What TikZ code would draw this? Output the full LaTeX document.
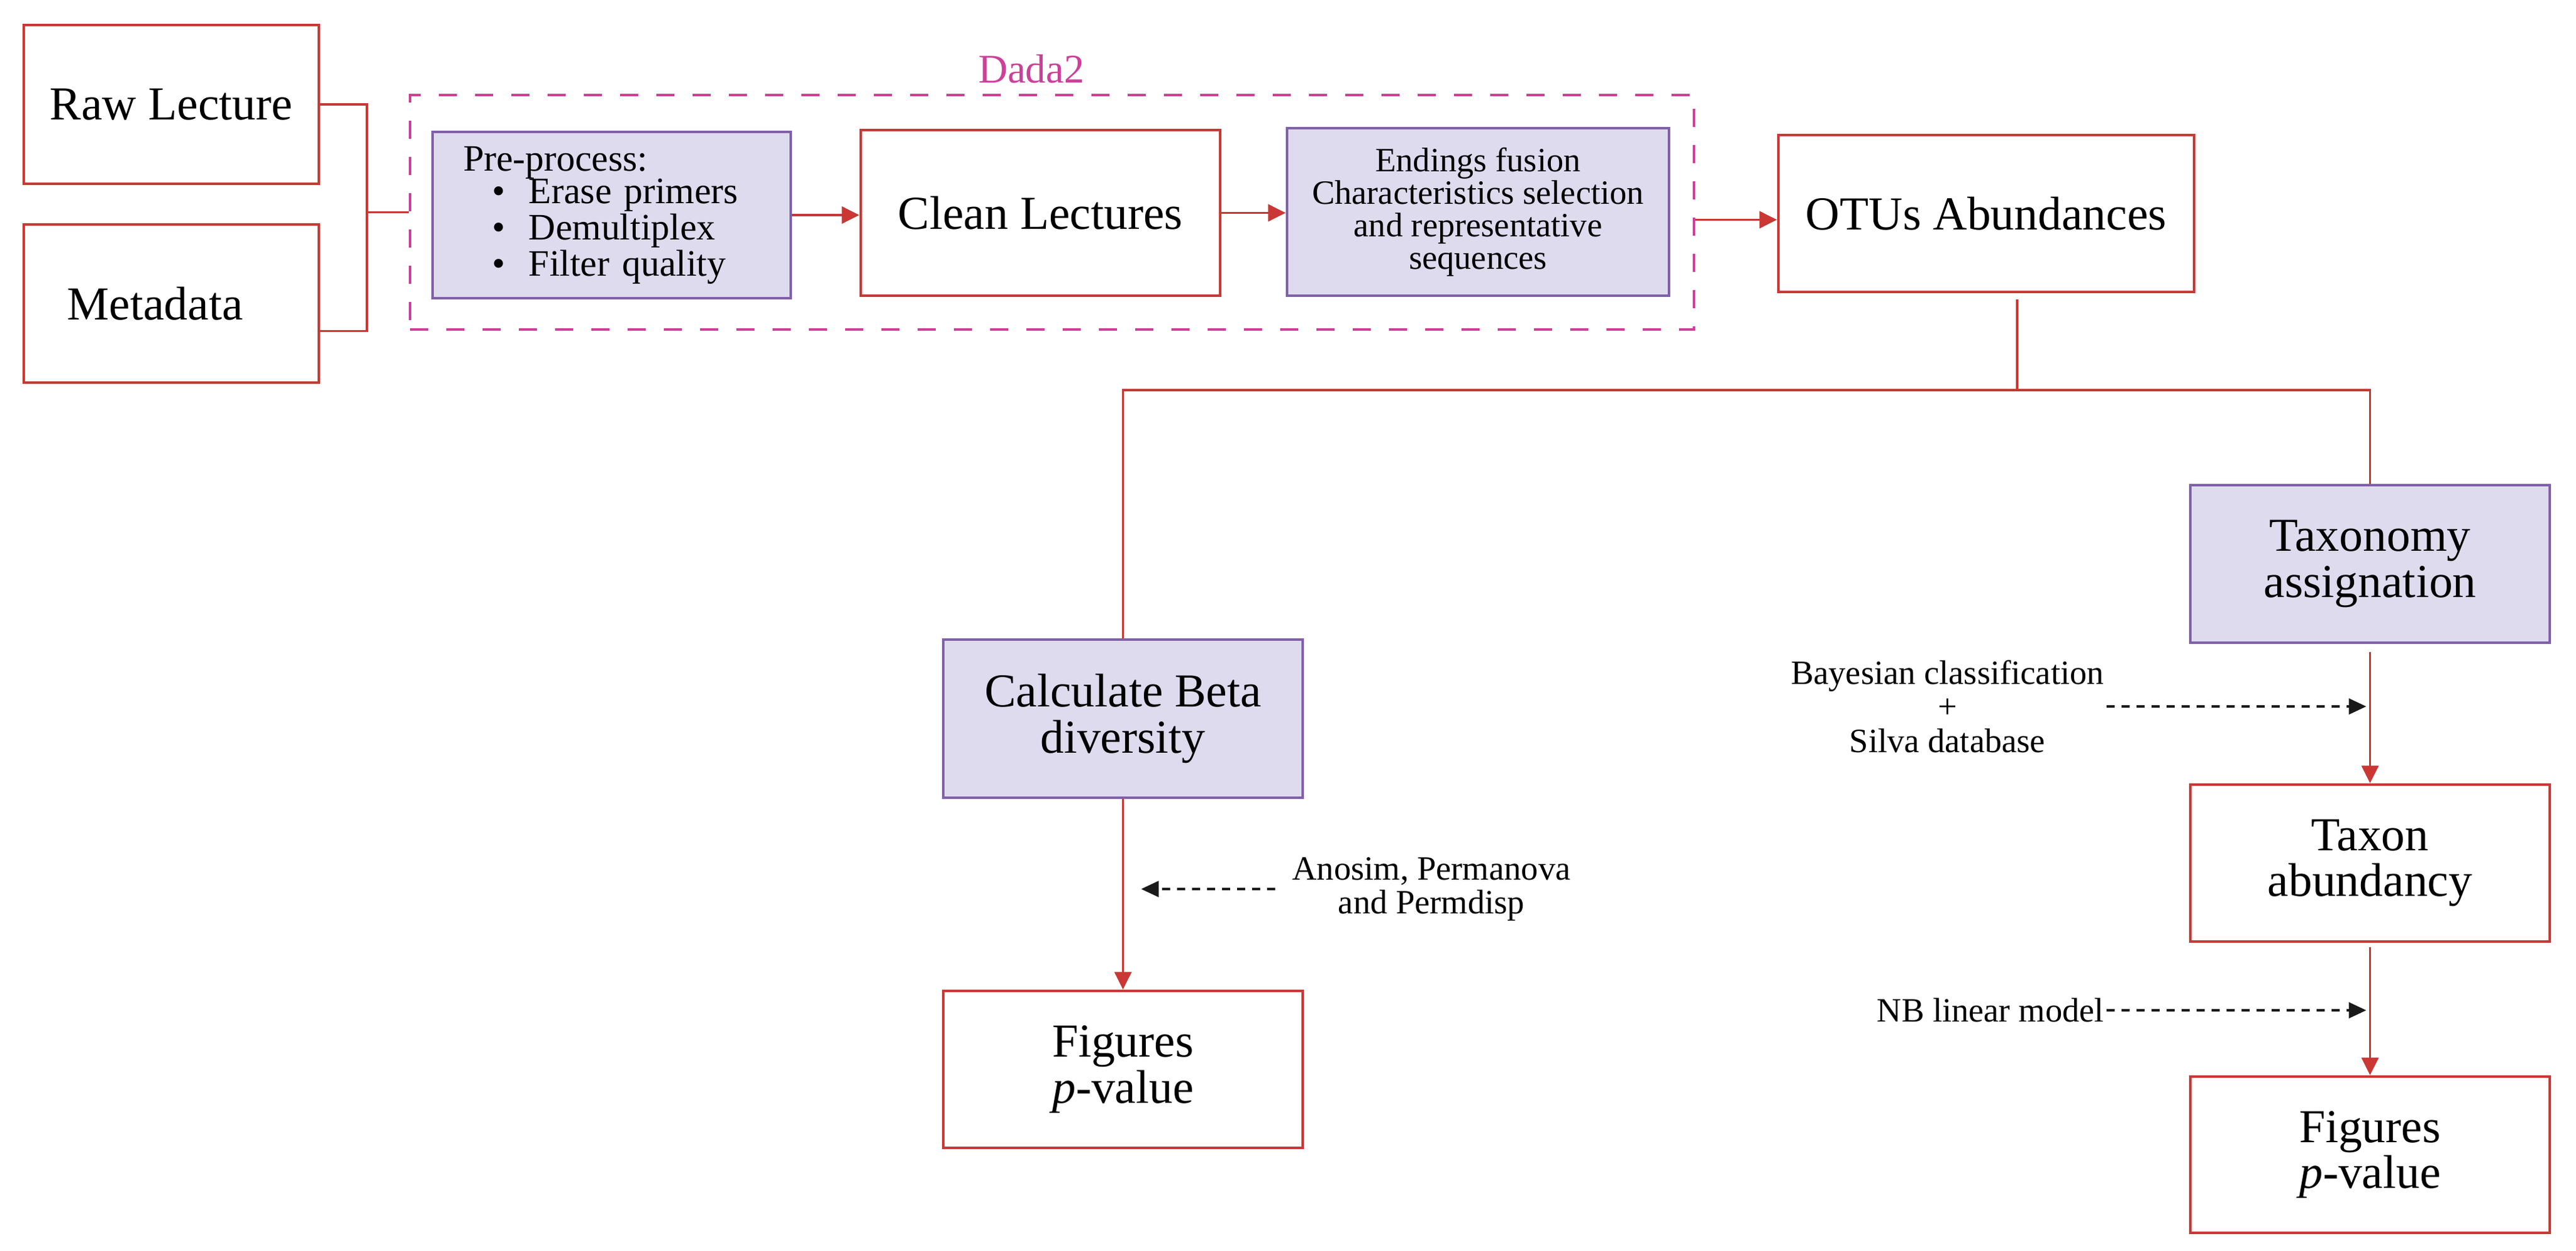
\documentclass[tikz,border=0pt]{standalone}
\usepackage{fontspec}
\setmainfont{Liberation Serif}
\usetikzlibrary{arrows.meta}

\definecolor{boxred}{RGB}{201,56,52}
\definecolor{boxpurple}{RGB}{128,96,168}
\definecolor{boxfill}{RGB}{222,219,239}
\definecolor{dadapink}{RGB}{204,64,153}

\newcommand{\itemdot}{\makebox[1.05cm][r]{\textbullet\hspace{0.38cm}}}

\tikzset{
	redbox/.style = {draw = boxred, line width = 1.3pt, align = center,
		font = \fontsize{21.5}{21}\selectfont},
	lilacbox/.style = {draw = boxpurple, fill = boxfill, line width = 1.3pt,
		align = center, font = \fontsize{21.5}{21}\selectfont},
	redline/.style = {draw = boxred, line width = 1.1pt},
	redarrow/.style = {redline, -{Triangle[length = 2.8mm, width = 2.7mm]}},
	hint/.style = {draw = black!90, line width = 1.2pt,
		dash pattern = on 1.3mm off 1.1mm,
		-{Triangle[length = 2.8mm, width = 2.5mm]}},
	note/.style = {align = center, inner sep = 1pt,
		font = \fontsize{15.5}{15.5}\selectfont},
}

\begin{document}
\begin{tikzpicture}

	\useasboundingbox (0,0) rectangle (41.21,-20.01);

	\node[
		redbox,
		minimum width = 4.72cm,
		minimum height = 2.54cm,
		name = raw,
	] at (2.74,-1.67) {Raw Lecture};

	\node[
		redbox,
		minimum width = 4.72cm,
		minimum height = 2.53cm,
		name = meta,
	] at (2.74,-4.855) {\hspace*{-5.2mm}Metadata};

	\node[
		draw = dadapink,
		line width = 1.2pt,
		dash pattern = on 2.9mm off 2.9mm,
		minimum width = 20.54cm,
		minimum height = 3.75cm,
		name = dada,
	] at (16.83,-3.395) {};

	\node[
		text = dadapink,
		font = \fontsize{18.5}{18.5}\selectfont,
		name = dadalbl,
	] at (16.5,-1.10) {Dada2};

	\node[
		lilacbox,
		minimum width = 5.73cm,
		minimum height = 2.66cm,
		text width = 4.75cm,
		inner xsep = 0.49cm,
		align = left,
		font = \fontsize{17}{15}\selectfont,
		name = pre,
	] at (9.785,-3.44) {Pre-process:\\ \itemdot Erase primers\\ \itemdot Demultiplex\\ \itemdot Filter quality};

	\node[
		redbox,
		minimum width = 5.75cm,
		minimum height = 2.65cm,
		name = clean,
	] at (16.645,-3.405) {Clean Lectures};

	\node[
		lilacbox,
		minimum width = 6.11cm,
		minimum height = 2.68cm,
		font = \fontsize{15.5}{14.8}\selectfont,
		name = endings,
	] at (23.645,-3.39) {Endings fusion\\ Characteristics selection\\ and representative\\ sequences};

	\node[
		redbox,
		minimum width = 6.65cm,
		minimum height = 2.51cm,
		name = otus,
	] at (31.775,-3.415) {OTUs Abundances};

	\node[
		lilacbox,
		minimum width = 5.75cm,
		minimum height = 2.53cm,
		name = beta,
	] at (17.965,-11.495) {Calculate Beta\\ diversity};

	\node[
		redbox,
		minimum width = 5.75cm,
		minimum height = 2.51cm,
		name = figleft,
	] at (17.965,-17.105) {Figures\\ \textit{p}-value};

	\node[
		lilacbox,
		minimum width = 5.75cm,
		minimum height = 2.52cm,
		name = taxo,
	] at (37.915,-9.02) {Taxonomy\\ assignation};

	\node[
		redbox,
		minimum width = 5.75cm,
		minimum height = 2.51cm,
		name = taxon,
	] at (37.915,-13.805) {Taxon\\ abundancy};

	\node[
		redbox,
		minimum width = 5.75cm,
		minimum height = 2.50cm,
		name = figright,
	] at (37.915,-18.47) {Figures\\ \textit{p}-value};

	\node[note, inner xsep = 2.7mm, name = anosim]
		at (22.90,-14.22) {Anosim, Permanova\\ and Permdisp};

	\node[note, anchor = east, name = bayes]
		at (33.70,-11.30) {Bayesian classification\\ +\\ Silva database};

	\node[note, anchor = east, name = nb]
		at (33.70,-16.16) {NB linear model};

	\coordinate (join) at (dada.west -| 5.87,0);
	\coordinate (split) at (32.27,-6.24);

	\draw[redline]
		(raw.east) -| (join) |- ([yshift = -4.4mm]meta.east);
	\draw[redline]
		(join) -- (dada.west);

	\draw[redarrow] (pre.east) -- (pre.east -| clean.west);
	\draw[redarrow] (clean.east) -- (clean.east -| endings.west);
	\draw[redarrow] ([yshift = -1.2mm]dada.east) -- ([yshift = -1.2mm]dada.east -| otus.west);

	\draw[redline]
		([yshift = -1mm]otus.south -| split) -- (split);
	\draw[redline]
		(beta.north) |- (split) -| (taxo.north);

	\draw[redarrow] (beta.south) -- (figleft.north);
	\draw[redarrow] ([yshift = -1.3mm]taxo.south) -- (taxon.north);
	\draw[redarrow] ([yshift = -0.7mm]taxon.south) -- (figright.north);

	\draw[hint, shorten >= 2.9mm]
		(anosim.west) -- (anosim.west -| beta.south);
	\draw[hint, shorten >= 0.6mm]
		(bayes.east) -- (bayes.east -| taxo.south);
	\draw[hint, shorten >= 0.6mm]
		(nb.east) -- (nb.east -| taxon.south);

\end{tikzpicture}
\end{document}
